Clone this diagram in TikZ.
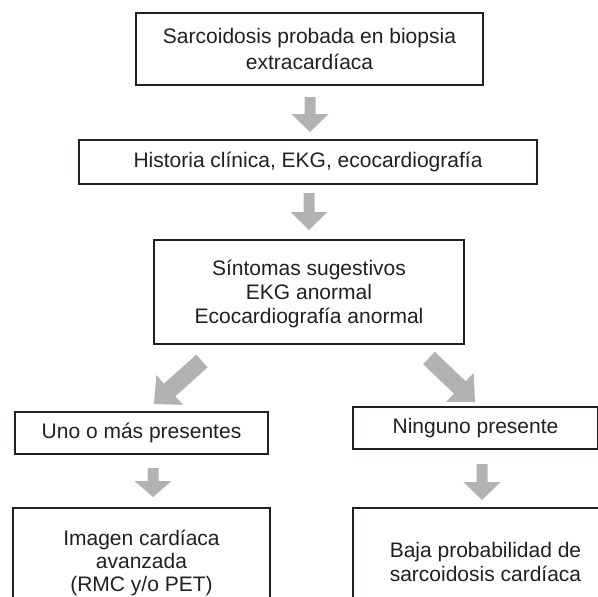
\documentclass[tikz,border=0pt]{standalone}
\usepackage{fontspec}
\setmainfont{Liberation Sans}
\usetikzlibrary{calc}
\definecolor{boxline}{RGB}{35,31,32}
\definecolor{arrowgray}{RGB}{178,178,180}
% block arrow from named start to named end: #3 half shaft, #4 half head, #5 head length
\newcommand\garrow[5]{%
  \coordinate (#1-#2-h) at ($(#2)!#5!(#1)$);
  \fill[arrowgray] ($(#1)!#3!90:(#2)$) -- ($(#1-#2-h)!#3!90:(#2)$) -- ($(#1-#2-h)!#4!90:(#2)$) -- (#2)
    -- ($(#1-#2-h)!#4!-90:(#2)$) -- ($(#1-#2-h)!#3!-90:(#2)$) -- ($(#1)!#3!-90:(#2)$) -- cycle;
}
\begin{document}
\begin{tikzpicture}[x=1pt,y=-1pt,
  box/.style={draw=boxline, line width=1.4pt, text=boxline, align=center, inner sep=0pt,
    font=\fontsize{21}{25}\selectfont},
  txt/.style={text=boxline, align=center, inner sep=0pt, font=\fontsize{21}{24}\selectfont}]
\useasboundingbox (0,0) rectangle (598,597);
\clip (0,0) rectangle (598,597);

\node[box, minimum width=347pt, minimum height=72pt, font=\fontsize{21}{26}\selectfont] (b1) at (309.5,49)
  {Sarcoidosis probada en biopsia\\extracardíaca};
\node[box, minimum width=458pt, minimum height=44pt] (b2) at (308,162)
  {Historia clínica, EKG, ecocardiografía};
\node[box, minimum width=310pt, minimum height=104pt] (b3) at (309,292) {};
\node[txt] (t3) at (309,294) {Síntomas sugestivos\\EKG anormal\\Ecocardiografía anormal};
\node[box, minimum width=253pt, minimum height=42pt] (b4) at (141.5,433)
  {Uno o más presentes};
\node[box, minimum width=245pt, minimum height=42pt] (b5) at (475.5,428)
  {Ninguno presente};
\node[box, minimum width=257pt, minimum height=120pt] (b6) at (141.5,568) {};
\node[txt, font=\fontsize{21}{23}\selectfont] (t6) at (141.5,563) {Imagen cardíaca\\avanzada\\(RMC y/o PET)};
\node[box, minimum width=265pt, minimum height=120pt] (b7) at (485.5,568) {};
\node[txt] (t7) at (485.5,562) {Baja probabilidad de\\sarcoidosis cardíaca};

\coordinate (a1s) at (310,97);  \coordinate (a1e) at (310,132);
\coordinate (a2s) at (309,193); \coordinate (a2e) at (309,230);
\coordinate (a3s) at (202,361); \coordinate (a3e) at (154,404);
\coordinate (a4s) at (429,358); \coordinate (a4e) at (475,402);
\coordinate (a5s) at (153,468); \coordinate (a5e) at (153,497);
\coordinate (a6s) at (482,464); \coordinate (a6e) at (482,500);

\garrow{a1s}{a1e}{5.5pt}{18.5pt}{18pt}
\garrow{a2s}{a2e}{5.5pt}{18.5pt}{18pt}
\garrow{a3s}{a3e}{8.5pt}{20pt}{21pt}
\garrow{a4s}{a4e}{8.5pt}{20pt}{21pt}
\garrow{a5s}{a5e}{5.5pt}{18.5pt}{16pt}
\garrow{a6s}{a6e}{5.5pt}{18.5pt}{18pt}
\end{tikzpicture}
\end{document}
